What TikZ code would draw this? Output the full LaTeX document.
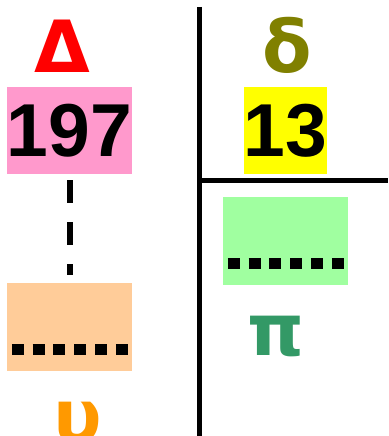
\documentclass[tikz,border=0pt]{standalone}
\usepackage{fontspec}
\setmainfont{Liberation Sans}
\newfontfamily\greekfont{DejaVu Sans}
\usetikzlibrary{positioning}

\definecolor{bigred}{HTML}{FF0000}
\definecolor{smallolive}{HTML}{808000}
\definecolor{pigreen}{HTML}{339966}
\definecolor{uporange}{HTML}{FF9900}
\definecolor{pinkfill}{HTML}{FF99CC}
\definecolor{yellowfill}{HTML}{FFFF00}
\definecolor{orangefill}{HTML}{FFCC99}
\definecolor{greenfill}{HTML}{A0FFA0}

\begin{document}
\begin{tikzpicture}[x=1pt, y=-1pt,
  glyph/.style={font=\greekfont\fontsize{72}{72}\selectfont\bfseries, inner sep=0pt, anchor=base},
  numbox/.style={font=\fontsize{75}{75}\selectfont\bfseries, inner sep=0pt,
    minimum height=87pt, text=black},
  slot/.style={minimum width=125pt, minimum height=88pt, inner sep=0pt},
  dotrow/.style={line width=11pt, dash pattern=on 12pt off 8.8pt}]
  \clip (0,0) rectangle (388,436);

  % Dividers
  \coordinate (top) at (199.5,7);
  \coordinate (bot) at (199.5,436);
  \coordinate (mid) at (199.5,180.5);
  \coordinate (right) at (388,180.5);
  \draw[line width=5pt] (top) -- (bot);
  \draw[line width=5pt] (mid) -- (right);

  % Left column: Delta
  \node[glyph, text=bigred] (Delta) at (62,72) {Δ};
  \node[numbox, fill=pinkfill, minimum width=125pt] (total) at (69.5,130.5) {197};
  \node[slot, fill=orangefill] (ubox) at (69.5,327) {};
  \draw[line width=6pt, dash pattern=on 23pt off 19pt, shorten <=6pt, shorten >=8pt]
    (total.south) -- (ubox.north);
  \draw[dotrow] ([xshift=5pt, yshift=-22.5pt]ubox.west) -- ([xshift=-4pt, yshift=-22.5pt]ubox.east);
  \node[glyph, text=uporange] (upsilon) at (77.5,441) {υ};

  % Right column: delta
  \node[glyph, text=smallolive] (delta) at (287,72) {δ};
  \node[numbox, fill=yellowfill, minimum width=83pt] (part) at (285.5,130.5) {13};
  \node[slot, fill=greenfill] (pbox) at (285.5,241) {};
  \draw[dotrow] ([xshift=5pt, yshift=-22.5pt]pbox.west) -- ([xshift=-4pt, yshift=-22.5pt]pbox.east);
  \node[glyph, text=pigreen] (pi) at (276,355) {π};
\end{tikzpicture}
\end{document}
